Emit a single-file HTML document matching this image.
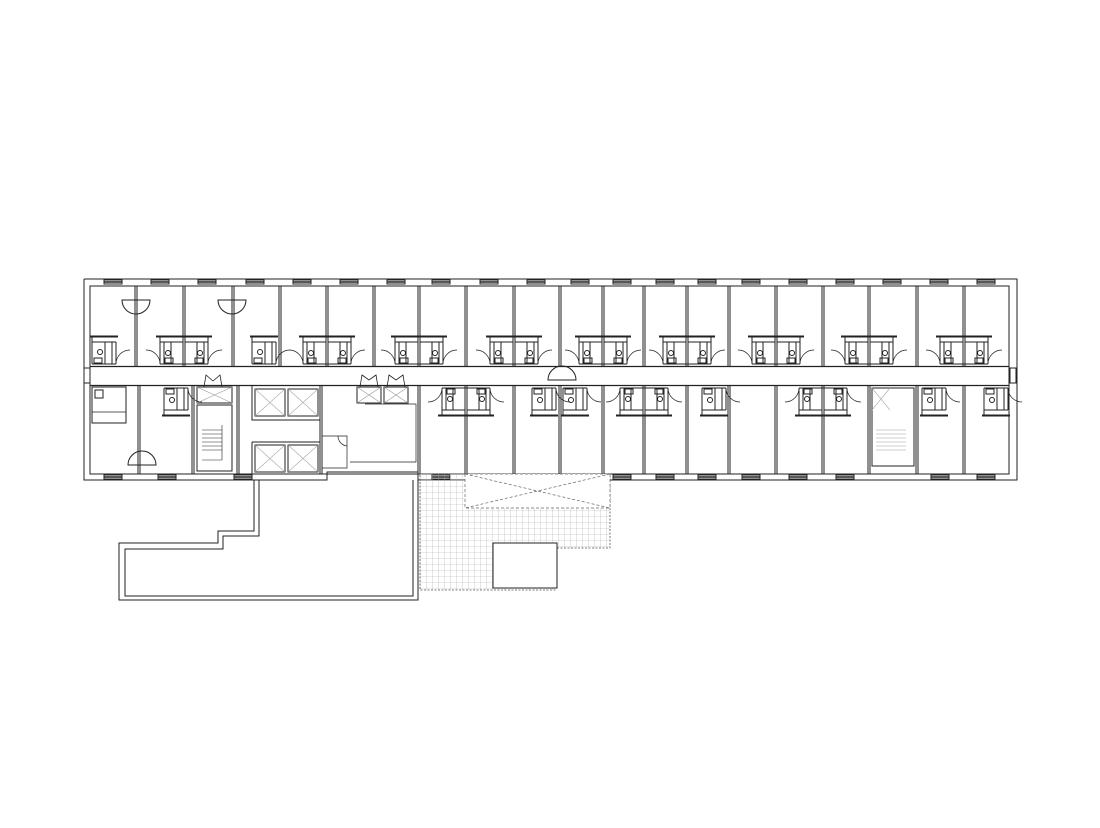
<!DOCTYPE html>
<html><head><meta charset="utf-8"><style>html,body{margin:0;padding:0;background:#fff}svg{display:block}</style></head>
<body>
<svg width="1100" height="828" viewBox="0 0 1100 828" xmlns="http://www.w3.org/2000/svg">
<defs>
<pattern id="grid" width="6" height="6" patternUnits="userSpaceOnUse">
<path d="M0 0H6M0 0V6" stroke="#aaa" stroke-width="0.6" fill="none"/>
</pattern>
<g id="tp" fill="none" stroke="#222" stroke-width="1">
<path d="M-28 336.5H28" stroke-width="2"/>
<path d="M-24 337V364M24 337V364M-20 342V364M20 342V364M-13 342V364M13 342V364M-24 342H-1M1 342H24M-24 364H24M-1 337V364M1 337V364"/>
<rect x="-19" y="358" width="8" height="5"/><rect x="11" y="358" width="8" height="5"/>
<circle cx="-16" cy="353" r="2.5"/><circle cx="16" cy="353" r="2.5"/>
<path d="M-24 364A14 14 0 0 0 -38 350M24 364A14 14 0 0 1 38 350" stroke-width="0.7"/>
</g>
<g id="ts" fill="none" stroke="#222" stroke-width="1">
<path d="M-2 336.5H26" stroke-width="2"/>
<path d="M0 337V364M20 342V364M24 342V364M0 342H24M0 364H24M13 342V364"/>
<rect x="2" y="358" width="8" height="5"/><circle cx="8" cy="352" r="2.5"/>
<path d="M24 364A14 14 0 0 1 38 350" stroke-width="0.7"/>
</g>
<g id="win"><rect x="-9" y="-2" width="18" height="4" fill="#fff" stroke="#222" stroke-width="1"/><path d="M-9 0H9" stroke="#222" stroke-width="1.6"/></g>
</defs>
<g fill="none" stroke="#222" stroke-width="1">
<path d="M84 279H1017V480H418"/>
<path d="M84 279V480H327V472H418"/>
<rect x="90" y="286" width="919" height="188"/>
<path d="M90 366.5H1009M90 385.5H1009" stroke-width="1.3"/>
<rect x="84" y="368" width="6" height="15"/><rect x="1010" y="368" width="6" height="15"/>
</g>
<g>
<use href="#win" x="113" y="282"/><use href="#win" x="160" y="282"/><use href="#win" x="207" y="282"/><use href="#win" x="255" y="282"/><use href="#win" x="302" y="282"/><use href="#win" x="349" y="282"/><use href="#win" x="396" y="282"/><use href="#win" x="441" y="282"/><use href="#win" x="489" y="282"/><use href="#win" x="536" y="282"/><use href="#win" x="580" y="282"/><use href="#win" x="622" y="282"/><use href="#win" x="665" y="282"/><use href="#win" x="707" y="282"/><use href="#win" x="751" y="282"/><use href="#win" x="798" y="282"/><use href="#win" x="845" y="282"/><use href="#win" x="892" y="282"/><use href="#win" x="939" y="282"/><use href="#win" x="986" y="282"/>
<use href="#win" x="113" y="477"/><use href="#win" x="167" y="477"/><use href="#win" x="243" y="477"/><use href="#win" x="441" y="477"/><use href="#win" x="489" y="477"/><use href="#win" x="536" y="477"/><use href="#win" x="580" y="477"/><use href="#win" x="622" y="477"/><use href="#win" x="665" y="477"/><use href="#win" x="707" y="477"/><use href="#win" x="751" y="477"/><use href="#win" x="798" y="477"/><use href="#win" x="845" y="477"/><use href="#win" x="940" y="477"/><use href="#win" x="986" y="477"/>
</g>
<g stroke="#222" stroke-width="1" fill="none">
<path d="M135 286V366M183 286V366M232 286V366M279 286V366M326 286V366M373 286V366M418 286V366M465 286V366M513 286V366M559 286V366M602 286V366M643 286V366M686 286V366M728 286V366M775 286V366M822 286V366M868 286V366M916 286V366M963 286V366"/>
<path d="M137 286V366M185 286V366M234 286V366M281 286V366M328 286V366M375 286V366M420 286V366M467 286V366M515 286V366M561 286V366M604 286V366M645 286V366M688 286V366M730 286V366M777 286V366M824 286V366M870 286V366M918 286V366M965 286V366"/>
<path d="M122 300A14 14 0 0 0 150 300Z M218 300A14 14 0 0 0 246 300Z"/>
</g>
<g>
<use href="#ts" x="92" y="0"/><use href="#tp" x="184" y="0"/><use href="#ts" x="252" y="0"/><use href="#tp" x="327" y="0"/><use href="#tp" x="419" y="0"/><use href="#tp" x="514" y="0"/><use href="#tp" x="603" y="0"/><use href="#tp" x="687" y="0"/><use href="#tp" x="776" y="0"/><use href="#tp" x="869" y="0"/><use href="#tp" x="964" y="0"/>
</g>
<g transform="translate(0 752) scale(1 -1)">
<use href="#ts" x="164" y="0"/><use href="#tp" x="466" y="0"/><use href="#ts" x="532" y="0"/><use href="#ts" x="563" y="0"/><use href="#tp" x="644" y="0"/><use href="#ts" x="702" y="0"/><use href="#tp" x="823" y="0"/><use href="#ts" x="922" y="0"/><use href="#ts" x="984" y="0"/>
</g>
<g stroke="#222" stroke-width="1" fill="none">
<path d="M138 386V474M140 386V474M192 386V474M194 386V474M237 386V474M239 386V474M320 386V474M322 386V474M418 386V474M420 386V474M465 386V474M467 386V474M513 386V474M515 386V474M559 386V474M561 386V474M602 386V474M604 386V474M643 386V474M645 386V474M686 386V474M688 386V474M728 386V474M730 386V474M775 386V474M777 386V474M822 386V474M824 386V474M868 386V474M870 386V474M916 386V474M918 386V474M963 386V474M965 386V474"/>
<rect x="92" y="387" width="34" height="36"/><path d="M92 412H126M92 423H126" stroke-width="0.8"/><rect x="95" y="390" width="8" height="8"/>
<path d="M128 465A14 14 0 0 1 156 465Z"/>
<rect x="197" y="405" width="35" height="66"/>
<path d="M202 430H222M202 434H222M202 438H222M202 442H222M202 446H222M202 450H222M222 425V460M202 460H222" stroke-width="0.6"/>
<rect x="197" y="387" width="35" height="16"/><path d="M197 387L232 403M232 387L197 403" stroke="#999" stroke-width="0.6"/>
<path d="M204 387L206 375L213 381L220 375L222 387" stroke-width="0.8"/>
<rect x="255" y="389" width="30" height="27"/><rect x="288" y="389" width="30" height="27"/>
<rect x="255" y="445" width="30" height="27"/><rect x="288" y="445" width="30" height="27"/>
<path d="M255 389L285 416M285 389L255 416M288 389L318 416M318 389L288 416M255 445L285 472M285 445L255 472M288 445L318 472M318 445L288 472" stroke="#aaa" stroke-width="0.6"/>
<path d="M252 386V420H320M252 442H320V474M252 442V474"/>
<rect x="357" y="387" width="24" height="16"/><rect x="384" y="387" width="24" height="16"/>
<path d="M357 387L381 403M381 387L357 403M384 387L408 403M408 387L384 403" stroke="#999" stroke-width="0.6"/>
<path d="M360 387L362 375L369 380L376 375L378 387M387 387L389 375L396 380L403 375L405 387" stroke-width="0.8"/>
<path d="M365 404H416V462H350M322 436H347V468H322M347 436V468M338 436A10 10 0 0 0 347 446" stroke-width="0.7"/>
<path d="M548 380A14 14 0 0 1 576 380Z"/>
<rect x="872" y="388" width="42" height="78"/>
<path d="M872 388L890 410M890 388L872 410" stroke="#aaa" stroke-width="0.6"/>
<path d="M876 430H906M876 434H906M876 438H906M876 442H906M876 446H906M876 450H906" stroke="#999" stroke-width="0.6"/>
<path d="M254 480V531H218V543H119V600H418V472"/>
<path d="M259 480V536H223V549H125V596H413V480"/>
</g>
<path d="M420 474H610V548H555V590H420Z" fill="url(#grid)" stroke="#555" stroke-width="0.8" stroke-dasharray="2 1.5"/>
<path d="M465 474H610V508H465Z" fill="#fff" stroke="#666" stroke-width="0.7" stroke-dasharray="3 2"/>
<path d="M465 474L610 508M610 474L465 508" stroke="#666" stroke-width="0.7" stroke-dasharray="3 2"/>
<rect x="493" y="543" width="64" height="45" fill="#fff" stroke="#222" stroke-width="1"/>
</svg>
</body></html>
